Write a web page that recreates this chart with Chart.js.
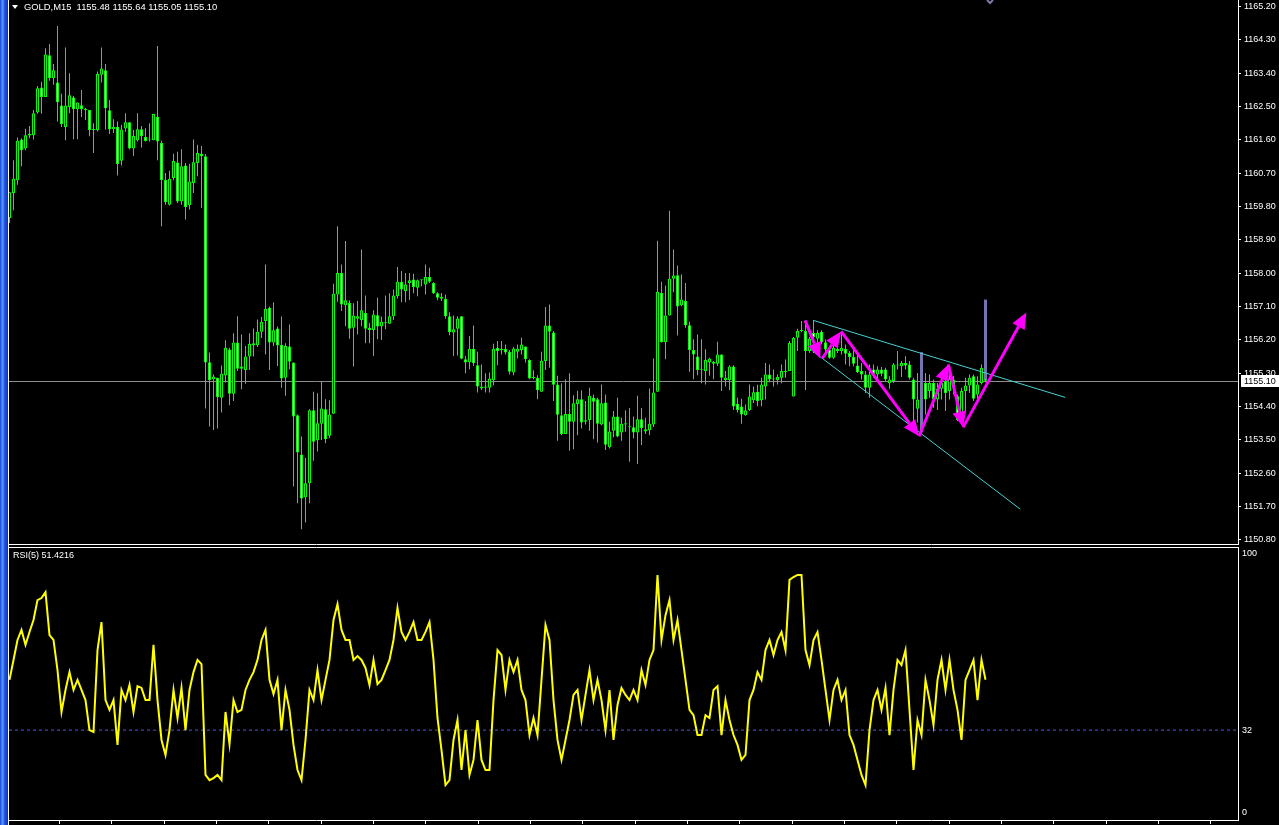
<!DOCTYPE html>
<html>
<head>
<meta charset="utf-8">
<script src="https://cdn.jsdelivr.net/npm/chart.js@4.4.1/dist/chart.umd.min.js"></script>
<style>
  html, body { margin: 0; padding: 0; background: #000; overflow: hidden; }
  body { width: 1279px; height: 825px; position: relative; font-family: "Liberation Sans", Arial, sans-serif; }
  #frame { position: absolute; left: 0; top: 0; width: 8px; height: 825px;
    background: linear-gradient(90deg, #1440c8 0px, #2f6cf0 1px, #5c9cff 3px, #2a5ee6 4px, #1a48d6 6px, #0b2fa8 8px); }
  #edge { position: absolute; left: 8px; top: 0; width: 1px; height: 825px; background: #fff; }
  #main { position: absolute; left: 9px; top: 0; }
  #rsi { position: absolute; left: 9px; top: 546px; }
  .label { position: absolute; color: #fff; font-size: 9px; line-height: 11px; white-space: pre; }
  #tri { position: absolute; left: 12px; top: 5px; width: 0; height: 0;
    border-left: 3px solid transparent; border-right: 3px solid transparent; border-top: 4px solid #fff; }
</style>
</head>
<body>
<div id="frame"></div>
<div id="edge"></div>
<canvas id="main" width="1270" height="546"></canvas>
<canvas id="rsi" width="1270" height="279"></canvas>
<div id="tri"></div>
<div class="label" style="left:24px; top:1px; font-size:9.4px;">GOLD,M15  1155.48 1155.64 1155.05 1155.10</div>
<div class="label" style="left:13px; top:550px;">RSI(5) 51.4216</div>
<script>
// GOLD M15 candles, bar 0 = oldest on screen
let opens = [
  1159.49,1160.17,1160.51,1161.61,1161.37,1161.72,1161.73,1162.34,1163.02,1162.76,
  1163.89,1163.27,1163.15,1162.53,1161.95,1162.49,1162.75,1162.43,1162.54,1162.44,
  1162.41,1161.87,1161.86,1163.36,1163.48,1162.40,1161.89,1161.96,1161.04,1161.91,
  1162.08,1161.37,1161.59,1161.89,1161.68,1161.61,1161.59,1162.23,1161.52,1160.52,
  1159.85,1160.57,1160.99,1159.94,1160.91,1159.84,1160.44,1160.98,1161.23,1161.16,
  1155.60,1155.14,1155.18,1154.64,1155.24,1155.94,1154.75,1156.13,1155.48,1155.39,
  1155.75,1156.06,1156.06,1156.42,1156.71,1157.07,1156.13,1156.51,1156.07,1155.18,
  1156.02,1155.59,1154.17,1153.11,1151.95,1152.33,1154.30,1153.49,1153.94,1154.33,
  1153.61,1154.21,1157.43,1158.01,1157.14,1157.20,1156.53,1156.77,1156.74,1156.93,
  1156.53,1156.47,1156.87,1156.56,1156.66,1156.64,1156.84,1157.38,1157.77,1157.52,
  1157.74,1157.83,1157.61,1157.81,1157.70,1157.90,1157.74,1157.46,1157.37,1157.31,
  1156.84,1156.40,1156.50,1156.84,1155.68,1155.60,1155.96,1155.52,1154.89,1154.94,
  1154.91,1155.11,1155.99,1155.96,1155.96,1155.88,1155.32,1155.88,1155.93,1156.02,
  1155.66,1155.18,1155.18,1154.80,1155.63,1156.59,1156.40,1155.00,1154.17,1153.66,
  1154.20,1153.99,1154.47,1154.60,1153.99,1154.04,1154.64,1154.60,1153.92,1154.51,
  1153.30,1153.75,1154.13,1153.70,1153.92,1153.84,1153.84,1153.70,1154.06,1153.79,
  1153.76,1153.92,1154.80,1157.47,1156.14,1156.86,1157.85,1157.95,1157.14,1157.25,
  1156.60,1155.93,1155.75,1155.41,1155.36,1155.59,1155.61,1155.56,1155.81,1155.12,
  1155.12,1155.48,1154.48,1154.40,1154.17,1154.31,1154.57,1154.80,1154.57,1154.94,
  1155.27,1155.13,1155.12,1155.18,1155.33,1155.36,1154.67,1156.26,1156.44,1156.44,
  1155.90,1156.39,1156.23,1156.42,1156.14,1155.94,1155.72,1155.96,1155.90,1155.96,
  1155.85,1155.74,1155.51,1155.36,1155.27,1154.91,1155.40,1155.27,1155.40,1155.40,
  1155.03,1155.09,1155.51,1155.49,1155.58,1155.54,1155.13,1154.34,1154.60,1155.04,
  1154.82,1155.04,1154.59,1154.88,1155.09,1154.82,1155.13,1154.68,1154.19,1154.82,
  1154.97,1155.22,1154.73,1155.04,1155.48
];
let highs = [
  1160.19,1161.05,1161.67,1161.65,1161.90,1161.98,1162.41,1163.06,1163.17,1164.08,
  1164.19,1163.65,1164.68,1162.85,1164.10,1163.40,1162.79,1162.61,1162.95,1162.47,
  1162.41,1162.05,1163.45,1164.10,1163.65,1162.68,1162.16,1162.10,1162.01,1162.32,
  1162.08,1161.87,1162.32,1161.98,1161.92,1162.05,1162.30,1164.14,1161.58,1160.71,
  1160.77,1161.23,1161.28,1161.35,1160.98,1160.96,1161.61,1161.47,1161.44,1161.22,
  1155.86,1155.27,1155.18,1155.51,1156.19,1155.99,1156.38,1156.84,1156.35,1156.04,
  1156.38,1156.51,1156.75,1156.82,1158.24,1157.10,1157.22,1156.56,1156.83,1156.11,
  1156.62,1155.59,1154.19,1153.59,1153.01,1154.33,1154.80,1154.76,1155.09,1154.60,
  1154.57,1157.72,1159.27,1158.24,1158.87,1157.27,1157.19,1157.25,1158.64,1157.40,
  1156.66,1157.00,1157.34,1156.83,1157.40,1157.46,1157.56,1158.17,1158.06,1158.01,
  1158.01,1157.99,1157.83,1157.83,1158.24,1158.15,1157.76,1157.49,1157.47,1157.43,
  1156.95,1156.86,1156.84,1156.85,1155.77,1156.31,1156.59,1155.88,1155.54,1155.30,
  1155.32,1156.10,1156.17,1156.17,1156.08,1155.93,1156.01,1156.08,1156.26,1156.02,
  1155.68,1155.38,1155.25,1155.88,1157.09,1157.16,1156.44,1155.23,1155.03,1155.14,
  1155.30,1154.71,1154.83,1154.84,1154.55,1154.91,1154.73,1154.64,1155.00,1154.73,
  1153.99,1154.28,1154.64,1154.10,1154.30,1154.36,1154.13,1154.69,1154.36,1154.10,
  1154.89,1155.70,1158.88,1157.77,1157.67,1159.69,1158.64,1158.21,1157.97,1157.74,
  1156.69,1156.22,1156.35,1156.22,1155.95,1155.72,1155.63,1156.15,1155.81,1155.36,
  1155.52,1155.52,1154.64,1154.61,1154.46,1155.00,1154.94,1154.99,1155.18,1155.58,
  1155.54,1155.40,1155.27,1155.54,1155.67,1156.17,1156.28,1156.50,1156.71,1156.71,
  1156.28,1156.73,1156.46,1156.46,1156.21,1155.99,1156.08,1156.03,1156.39,1156.08,
  1155.90,1155.99,1155.81,1155.58,1155.36,1155.54,1155.54,1155.49,1155.47,1155.45,
  1155.22,1155.58,1155.90,1155.63,1155.76,1155.63,1155.18,1155.31,1155.45,1155.31,
  1155.27,1155.13,1155.04,1155.27,1155.36,1155.27,1155.22,1154.73,1154.91,1155.18,
  1155.27,1155.27,1155.22,1155.54,1155.64
];
let lows = [
  1159.36,1159.70,1160.39,1160.89,1161.32,1161.65,1161.61,1162.31,1162.31,1162.76,
  1163.20,1163.09,1162.10,1161.95,1161.59,1162.32,1161.62,1161.62,1162.22,1162.14,
  1161.70,1161.25,1161.83,1163.15,1161.88,1161.76,1161.79,1160.64,1160.91,1161.82,
  1161.34,1161.17,1161.56,1161.40,1161.56,1161.56,1161.59,1161.05,1159.27,1159.85,
  1159.83,1160.51,1159.90,1159.85,1159.45,1159.72,1160.17,1160.62,1159.76,1154.35,
  1153.86,1153.77,1153.81,1154.24,1155.05,1154.44,1154.55,1155.36,1154.87,1155.02,
  1155.39,1155.75,1156.01,1156.25,1155.81,1155.39,1156.04,1155.50,1154.91,1154.69,
  1155.41,1152.24,1151.79,1151.09,1151.27,1151.79,1152.94,1153.19,1153.50,1153.41,
  1153.55,1154.21,1157.23,1156.98,1156.57,1156.23,1155.48,1156.35,1156.57,1156.11,
  1156.11,1155.77,1156.22,1156.20,1156.49,1156.64,1156.74,1157.32,1157.22,1157.22,
  1157.28,1157.46,1157.38,1157.65,1157.43,1157.74,1157.44,1157.27,1157.25,1156.78,
  1156.33,1155.77,1155.78,1155.68,1155.30,1155.41,1155.50,1154.78,1154.85,1154.78,
  1154.78,1154.98,1155.52,1155.81,1155.81,1155.27,1155.25,1155.70,1155.81,1155.59,
  1155.14,1155.14,1154.60,1154.80,1155.39,1155.45,1154.55,1153.48,1153.63,1153.66,
  1153.21,1153.25,1153.63,1153.81,1153.92,1153.75,1153.52,1153.43,1153.90,1153.23,
  1153.27,1153.57,1153.57,1153.48,1153.72,1152.91,1153.54,1152.85,1153.36,1153.66,
  1153.63,1153.85,1154.80,1156.13,1155.68,1156.86,1157.49,1156.32,1157.11,1156.53,
  1155.34,1155.14,1155.25,1155.03,1155.00,1155.23,1155.14,1155.50,1154.82,1154.94,
  1154.85,1154.31,1154.24,1153.94,1154.15,1154.28,1154.50,1154.41,1154.41,1154.59,
  1155.06,1154.94,1155.00,1155.03,1155.18,1155.36,1154.67,1155.90,1156.41,1154.85,
  1155.85,1155.85,1156.05,1156.08,1155.83,1155.69,1155.69,1155.85,1155.81,1155.54,
  1155.49,1155.49,1155.31,1155.13,1154.77,1154.64,1155.18,1155.13,1155.22,1155.09,
  1154.88,1155.04,1155.40,1155.20,1155.40,1155.13,1153.97,1153.97,1153.70,1154.19,
  1154.64,1154.37,1154.31,1154.59,1154.28,1154.59,1154.73,1154.01,1153.92,1154.28,
  1154.77,1154.55,1154.59,1155.00,1155.05
];
let closes = [
  1160.19,1160.55,1161.58,1161.32,1161.73,1161.77,1162.32,1163.00,1162.76,1163.91,
  1163.27,1163.48,1162.62,1162.03,1162.53,1162.81,1162.43,1162.61,1162.43,1162.41,
  1161.87,1161.89,1163.38,1163.53,1162.46,1161.88,1161.96,1160.95,1161.88,1162.08,
  1161.37,1161.71,1161.89,1161.70,1161.57,1161.63,1162.30,1161.56,1160.51,1159.92,
  1160.55,1161.03,1159.94,1160.89,1159.79,1160.48,1161.00,1161.25,1161.16,1155.59,
  1155.11,1155.21,1154.66,1155.29,1155.99,1154.75,1156.13,1155.42,1155.42,1155.75,
  1156.10,1156.11,1156.42,1156.69,1157.04,1156.13,1156.46,1156.05,1155.16,1156.04,
  1155.61,1154.13,1153.16,1151.92,1152.33,1154.30,1153.45,1153.95,1154.35,1153.52,
  1154.19,1157.45,1158.01,1157.16,1157.27,1156.50,1156.86,1156.84,1157.00,1156.50,
  1156.46,1156.89,1156.56,1156.69,1156.65,1156.84,1157.40,1157.77,1157.56,1157.70,
  1157.81,1157.63,1157.81,1157.82,1157.90,1157.77,1157.46,1157.34,1157.31,1156.84,
  1156.41,1156.49,1156.78,1155.69,1155.59,1155.96,1155.57,1154.94,1154.94,1154.91,
  1155.16,1155.96,1155.90,1155.93,1155.86,1155.34,1155.97,1155.96,1156.08,1155.68,
  1155.16,1155.17,1154.85,1155.64,1156.59,1156.42,1154.99,1154.18,1153.66,1154.20,
  1153.99,1154.49,1154.60,1153.97,1154.03,1154.69,1154.53,1153.94,1154.49,1153.37,
  1153.73,1154.13,1153.59,1153.94,1153.95,1153.85,1153.70,1154.06,1153.82,1153.73,
  1153.94,1154.78,1157.50,1156.14,1156.86,1157.85,1157.94,1157.10,1157.29,1156.60,
  1155.93,1155.81,1155.39,1155.38,1155.66,1155.70,1155.56,1155.81,1155.18,1155.18,
  1155.48,1154.40,1154.31,1154.19,1154.30,1154.67,1154.79,1154.55,1155.00,1155.27,
  1155.13,1155.16,1155.20,1155.36,1155.36,1156.12,1156.26,1156.44,1156.46,1155.90,
  1156.23,1156.28,1156.39,1156.14,1155.94,1155.72,1155.99,1155.90,1155.99,1155.83,
  1155.74,1155.56,1155.33,1155.27,1154.91,1155.27,1155.29,1155.40,1155.29,1155.13,
  1155.13,1155.54,1155.54,1155.58,1155.51,1155.18,1154.59,1154.59,1155.00,1154.59,
  1155.04,1154.59,1154.88,1155.04,1154.77,1155.15,1154.97,1154.04,1154.82,1154.97,
  1155.18,1154.61,1155.00,1155.45,1155.10
];
// RSI(5), one value per bar
let rsiValues = [
  51.4,59.1,66.8,70.7,64.9,69.9,74.5,82.2,83.0,85.3,
  68.7,66.8,55.2,39.0,47.5,54.4,47.5,51.4,47.5,43.6,
  32.0,31.3,62.9,73.7,43.6,39.8,43.6,26.3,47.5,43.6,
  49.4,39.0,49.0,48.3,43.6,43.6,64.9,43.6,28.2,22.4,
  32.0,47.5,36.7,48.3,32.0,47.5,54.4,59.1,57.5,14.7,
  12.7,13.5,14.7,12.7,39.0,26.6,43.6,39.0,39.8,47.5,
  51.4,54.4,59.1,66.8,70.7,51.4,45.9,51.4,32.0,47.5,
  39.8,26.3,16.6,12.7,28.2,47.5,43.6,55.2,43.6,51.4,
  59.1,74.5,80.7,70.7,66.8,66.8,59.1,60.6,59.1,56.0,
  49.4,59.1,49.8,51.4,55.2,59.1,66.8,79.2,69.9,66.8,
  69.9,73.7,66.8,66.8,69.9,73.7,59.1,36.7,24.3,10.8,
  12.7,28.2,35.9,16.6,32.0,14.7,20.5,35.9,20.5,16.6,
  16.6,43.6,62.9,61.0,47.5,59.1,54.4,59.1,47.5,43.6,
  30.1,36.7,30.1,51.4,72.6,66.8,43.6,28.2,20.5,28.2,
  35.9,45.6,47.5,35.9,45.6,55.2,43.6,51.4,43.6,32.0,
  47.5,28.2,41.7,48.3,45.6,43.6,47.5,43.6,55.2,49.4,
  59.1,62.9,91.9,66.8,76.4,82.2,66.8,74.5,62.9,51.4,
  39.8,37.8,30.1,30.1,37.8,36.7,47.5,49.0,30.1,43.6,
  35.9,30.1,26.3,20.5,22.4,43.6,47.5,54.4,51.4,62.9,
  66.8,61.0,66.8,69.9,62.9,90.0,91.1,91.9,91.9,62.9,
  57.1,66.8,69.9,59.1,47.5,35.9,47.5,51.4,43.6,47.5,
  30.1,26.3,20.5,14.7,10.8,32.0,43.6,47.5,39.8,48.3,
  30.1,47.5,59.1,57.1,62.9,39.8,16.6,35.9,30.1,51.4,
  43.6,34.0,51.4,59.1,47.5,59.1,47.5,39.8,28.2,51.4,
  55.2,59.1,43.6,59.1,51.42
];

let priceTicks = [1150.80,1151.70,1152.60,1153.50,1154.40,1155.30,1156.20,1157.10,1158.00,
  1158.90,1159.80,1160.70,1161.60,1162.50,1163.40,1164.30,1165.20];
let rsiTicks = [0, 32, 100];
let rsiLevel = 32;
let lastPrice = 1155.10;

// drawn objects: [bar, price] pairs
let trendUpper = [[200.9, 1156.73], [263.9, 1154.65]];
let trendLower = [[200.2, 1155.95], [252.7, 1151.63]];
let arrows = [
  [198.9, 1156.73, 202.7, 1155.70],
  [203.2, 1155.70, 207.9, 1156.43],
  [207.9, 1156.43, 227.4, 1153.60],
  [227.4, 1153.60, 234.7, 1155.54],
  [234.7, 1155.54, 238.4, 1153.84],
  [238.4, 1153.84, 254.2, 1156.94]
];
let markBars = [228, 244];
let markLow = [1153.71, 1155.13];
let markHigh = [1155.87, 1157.29];
let chevronBar = 245.1;

let xMin = -0.125;
let xMax = 307.125;
let xTickStart = -0.55;
let xTickStep = 13.08;
let labelFont = { family: "Liberation Sans", size: 9 };

let wickData = highs.map((h, i) => ({ x: i, y: [lows[i], h] }));
let bodyData = opens.map((o, i) => ({ x: i, y: [o, closes[i]] }));
let bodyFill = opens.map((o, i) => closes[i] >= o ? '#000000' : '#ffffff');
let markData = markBars.map((b, i) => ({ x: b, y: [markLow[i], markHigh[i]] }));
let toPoints = (pairs) => pairs.map(p => ({ x: p[0], y: p[1] }));

let noPadding = (s) => { s.paddingTop = 0; s.paddingBottom = 0; s.paddingLeft = 0; s.paddingRight = 0; };

let drawings = {
  id: 'drawings',
  beforeDatasetsDraw(chart) {
    let ctx = chart.ctx, a = chart.chartArea;
    let y = Math.round(chart.scales.y.getPixelForValue(lastPrice)) + 0.5;
    ctx.save();
    ctx.strokeStyle = '#8c8c8c';
    ctx.lineWidth = 1;
    ctx.beginPath();
    ctx.moveTo(a.left, y);
    ctx.lineTo(a.right, y);
    ctx.stroke();
    ctx.restore();
  },
  afterDatasetsDraw(chart) {
    let ctx = chart.ctx, xs = chart.scales.x, ys = chart.scales.y;
    ctx.save();
    ctx.strokeStyle = '#ff00ff';
    ctx.fillStyle = '#ff00ff';
    ctx.lineWidth = 3;
    arrows.forEach(ar => {
      let x0 = xs.getPixelForValue(ar[0]), y0 = ys.getPixelForValue(ar[1]);
      let x1 = xs.getPixelForValue(ar[2]), y1 = ys.getPixelForValue(ar[3]);
      let ang = Math.atan2(y1 - y0, x1 - x0);
      let len = 16, half = 7;
      let bx = x1 - Math.cos(ang) * len, by = y1 - Math.sin(ang) * len;
      ctx.beginPath();
      ctx.moveTo(x0, y0);
      ctx.lineTo(bx, by);
      ctx.stroke();
      ctx.beginPath();
      ctx.moveTo(x1, y1);
      ctx.lineTo(bx + Math.sin(ang) * half, by - Math.cos(ang) * half);
      ctx.lineTo(bx - Math.sin(ang) * half, by + Math.cos(ang) * half);
      ctx.closePath();
      ctx.fill();
    });
    // small marker at the top edge
    let cx = Math.round(xs.getPixelForValue(chevronBar));
    ctx.strokeStyle = '#7c7ca4';
    ctx.lineWidth = 2;
    ctx.beginPath();
    ctx.moveTo(cx - 3, 0);
    ctx.lineTo(cx, 3);
    ctx.lineTo(cx + 3, 0);
    ctx.stroke();
    ctx.restore();
  },
  afterDraw(chart) {
    // current price tag on the axis
    let ctx = chart.ctx, a = chart.chartArea;
    let y = Math.round(chart.scales.y.getPixelForValue(lastPrice));
    ctx.save();
    ctx.fillStyle = '#ffffff';
    ctx.fillRect(a.right + 3, y - 6, 40, 12);
    ctx.fillStyle = '#000000';
    ctx.font = '9px "Liberation Sans"';
    ctx.textBaseline = 'middle';
    ctx.fillText(lastPrice.toFixed(2), a.right + 6, y + 0.5);
    ctx.restore();
  }
};

let mainChart = new Chart(document.getElementById('main'), {
  type: 'bar',
  data: {
    datasets: [
      { type: 'bar', data: wickData, backgroundColor: '#00ff00', barThickness: 1, grouped: false,
        minBarLength: 1, inflateAmount: 0, order: 5 },
      { type: 'bar', data: bodyData, backgroundColor: bodyFill, borderColor: '#00ff00', borderWidth: 1,
        borderSkipped: false, barThickness: 3, grouped: false, minBarLength: 1, inflateAmount: 0, order: 4 },
      { type: 'bar', data: markData, backgroundColor: '#7474b0', barThickness: 3, grouped: false,
        inflateAmount: 0, order: 3 },
      { type: 'line', data: toPoints(trendUpper), borderColor: '#46d2d2', borderWidth: 1, pointRadius: 0, order: 2 },
      { type: 'line', data: toPoints(trendLower), borderColor: '#46d2d2', borderWidth: 1, pointRadius: 0, order: 2 }
    ]
  },
  options: {
    responsive: false,
    animation: false,
    events: [],
    layout: { padding: 0 },
    plugins: { legend: { display: false }, tooltip: { enabled: false } },
    scales: {
      x: {
        type: 'linear', min: xMin, max: xMax, offset: false,
        grid: { display: false },
        ticks: { display: false },
        border: { display: true, color: '#ffffff' },
        afterFit(s) { s.height = 2; noPadding(s); }
      },
      y: {
        position: 'right', min: 1150.69, max: 1165.38,
        afterBuildTicks(s) { s.ticks = priceTicks.map(v => ({ value: v })); },
        afterFit(s) { s.width = 41; noPadding(s); },
        ticks: { color: '#ffffff', font: labelFont, padding: 3, autoSkip: false,
          callback: v => Number(v).toFixed(2) },
        grid: { drawOnChartArea: false, drawTicks: true, tickLength: 3, color: '#ffffff' },
        border: { display: true, color: '#ffffff' }
      }
    }
  },
  plugins: [drawings]
});

let paneTop = {
  id: 'paneTop',
  afterDraw(chart) {
    let ctx = chart.ctx, a = chart.chartArea;
    ctx.save();
    ctx.strokeStyle = '#ffffff';
    ctx.lineWidth = 1;
    ctx.beginPath();
    ctx.moveTo(0, a.top + 0.5);
    ctx.lineTo(a.right + 1, a.top + 0.5);
    ctx.stroke();
    ctx.restore();
  }
};

let rsiChart = new Chart(document.getElementById('rsi'), {
  type: 'line',
  data: {
    datasets: [
      { data: rsiValues.map((v, i) => ({ x: i, y: v })), borderColor: '#ffff00', borderWidth: 2,
        pointRadius: 0, tension: 0, order: 1 },
      { data: [{ x: xMin, y: rsiLevel }, { x: xMax, y: rsiLevel }], borderColor: '#5454d8', borderWidth: 1,
        borderDash: [3, 3], pointRadius: 0, order: 2 }
    ]
  },
  options: {
    responsive: false,
    animation: false,
    events: [],
    layout: { padding: { top: 1 } },
    plugins: { legend: { display: false }, tooltip: { enabled: false } },
    scales: {
      x: {
        type: 'linear', min: xMin, max: xMax, offset: false,
        afterBuildTicks(s) {
          let t = [];
          for (let v = xTickStart; v <= xMax; v += xTickStep) {
            if (v >= xMin) t.push({ value: v });
          }
          s.ticks = t;
        },
        afterFit(s) { s.height = 5; noPadding(s); },
        ticks: { autoSkip: false, callback: () => '' },
        grid: { drawOnChartArea: false, drawTicks: true, tickLength: 4, color: '#ffffff' },
        border: { display: true, color: '#ffffff' }
      },
      y: {
        position: 'right', min: -2.7, max: 102.7,
        afterBuildTicks(s) { s.ticks = rsiTicks.map(v => ({ value: v })); },
        afterFit(s) { s.width = 41; noPadding(s); },
        ticks: { color: '#ffffff', font: labelFont, padding: 4, autoSkip: false },
        grid: { display: false, drawTicks: false },
        border: { display: true, color: '#ffffff' }
      }
    }
  },
  plugins: [paneTop]
});
</script>
</body>
</html>
